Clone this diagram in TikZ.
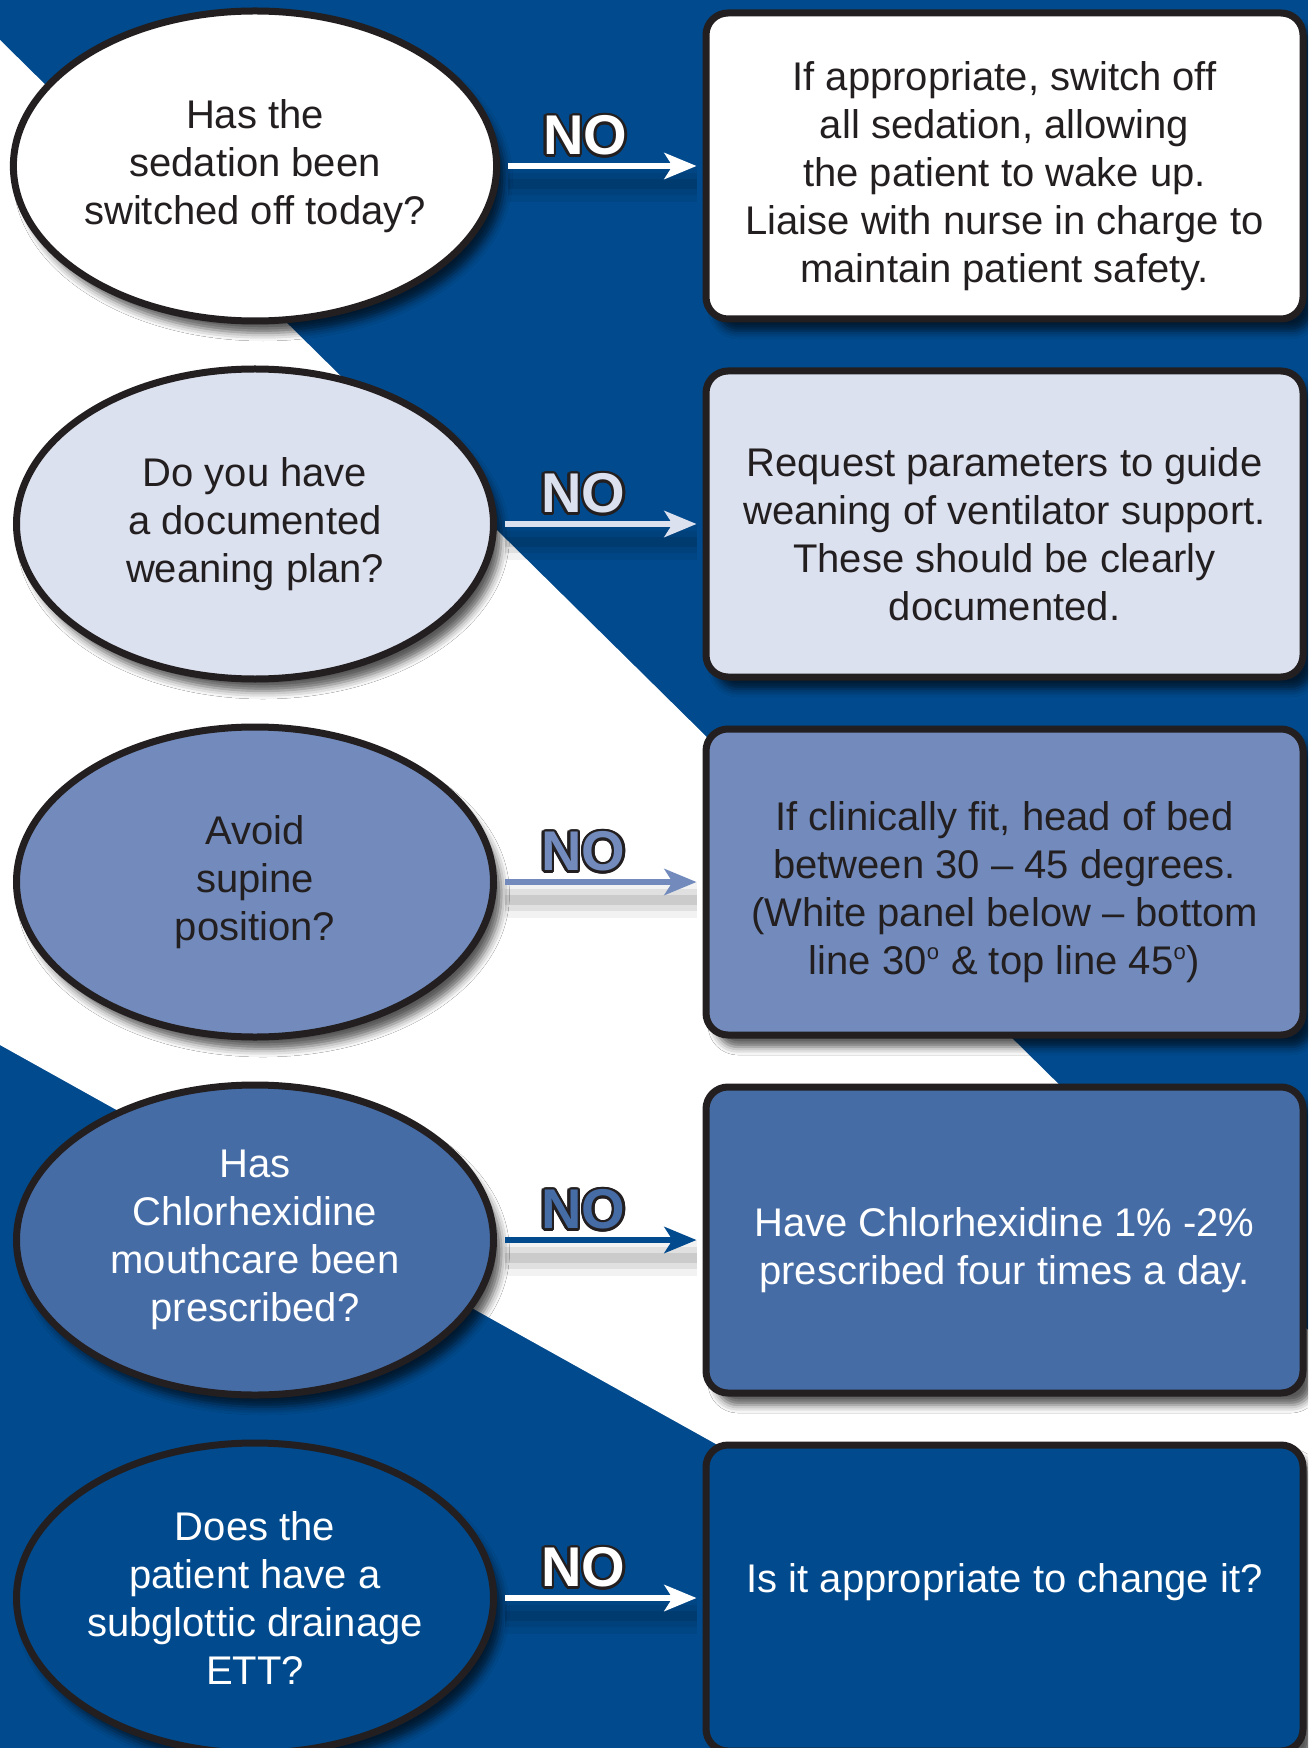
\documentclass[tikz,border=0pt]{standalone}
\usepackage{fontspec}
\setmainfont{Liberation Sans}
\usepackage{contour}
\usetikzlibrary{arrows.meta, positioning, shapes.geometric, shadows.blur}
\contourlength{1.3pt}
\definecolor{bgblue}{RGB}{0,74,141}
\definecolor{rowtwo}{RGB}{220,225,240}
\definecolor{rowthree}{RGB}{114,139,188}
\definecolor{rowfour}{RGB}{70,108,166}
\definecolor{linedark}{RGB}{35,31,32}
\newcommand{\bodyfont}{\fontsize{20pt}{24pt}\selectfont}
\newcommand{\nofont}{\fontsize{28pt}{28pt}\selectfont\bfseries}
\newcommand{\topgap}{\rule{0pt}{25pt}}
\newcommand{\degsign}{\textsuperscript{\fontsize{11pt}{11pt}\selectfont o}}

\begin{document}
\begin{tikzpicture}[%
    x=0.5pt, y=-0.5pt,
    >={Stealth[length=16pt,width=13pt,inset=4pt]},
    node distance=179pt,
    on grid,
    question/.style={ellipse, draw=linedark, line width=3.5pt, minimum width=238.5pt,
      minimum height=155pt, inner sep=0pt, align=center, font=\bodyfont,
      blur shadow={shadow xshift=4pt, shadow yshift=-6pt, shadow blur radius=4pt, shadow opacity=65}},
    answer/.style={rectangle, rounded corners=11pt, draw=linedark, line width=3.5pt,
      minimum width=298.5pt, minimum height=153pt, align=center, font=\bodyfont,
      blur shadow={shadow xshift=5pt, shadow yshift=-6pt, shadow blur radius=4pt, shadow opacity=65}},
    link/.style={->, line width=3pt, shorten <=4pt, shorten >=3pt},
    linkshade/.style={preaction={draw=black, opacity=.05, line width=18pt, arrows=-, transform canvas={yshift=-9pt}},
      preaction={draw=black, opacity=.07, line width=11pt, arrows=-, transform canvas={yshift=-9pt}},
      preaction={draw=black, opacity=.09, line width=5pt, arrows=-, transform canvas={yshift=-9pt}}},
    nolabel/.style={font=\nofont, inner sep=0pt, pos=.42, above=2.5pt}
  ]
  \useasboundingbox (0,0) rectangle (1308,1748);
  \clip (0,0) rectangle (1308,1748);
  \fill[bgblue] (0,0) rectangle (1308,1748);
  \fill[white] (0,40) -- (1308,1330) -- (1308,1774) -- (0,1045) -- cycle;

  \node[question, fill=white, text=linedark] at (255,166) (Q1) {Has the\\sedation been\\switched off today?};
  \node[question, fill=rowtwo, text=linedark, below=of Q1] (Q2) {Do you have\\a documented\\weaning plan?};
  \node[question, fill=rowthree, text=linedark, below=of Q2] (Q3) {Avoid\\supine\\position?};
  \node[question, fill=rowfour, text=white, below=of Q3] (Q4) {Has\\Chlorhexidine\\mouthcare been\\prescribed?};
  \node[question, fill=bgblue, text=white, below=of Q4] (Q5) {Does the\\patient have a\\subglottic drainage\\ETT?};

  \node[answer, fill=white, text=linedark, right=374.75pt of Q1] (A1) {\topgap If appropriate, switch off\\all sedation, allowing\\the patient to wake up.\\Liaise with nurse in charge to\\maintain patient safety.};
  \node[answer, fill=rowtwo, text=linedark, right=374.75pt of Q2] (A2) {\topgap Request parameters to guide\\weaning of ventilator support.\\These should be clearly\\documented.};
  \node[answer, fill=rowthree, text=linedark, right=374.75pt of Q3] (A3) {\topgap If clinically fit, head of bed\\between 30 – 45 degrees.\\(White panel below – bottom\\line 30\degsign{} \& top line 45\degsign)};
  \node[answer, fill=rowfour, text=white, right=374.75pt of Q4] (A4) {\topgap Have Chlorhexidine 1\% -2\%\\prescribed four times a day.};
  \node[answer, fill=bgblue, text=white, right=374.75pt of Q5] (A5) {\raisebox{20pt}{Is it appropriate to change it?}};

  \path
    (Q1) edge[link, linkshade, draw=white] node[nolabel, text=white] {\contour{linedark}{NO}} (A1)
    (Q2) edge[link, linkshade, draw=rowtwo] node[nolabel, text=rowtwo] {\contour{linedark}{NO}} (A2)
    (Q3) edge[link, linkshade, draw=rowthree] node[nolabel, text=rowthree] {\contour{linedark}{NO}} (A3)
    (Q4) edge[link, linkshade, draw=bgblue] node[nolabel, text=rowfour] {\contour{linedark}{NO}} (A4)
    (Q5) edge[link, linkshade, draw=white] node[nolabel, text=white] {\contour{linedark}{NO}} (A5);
\end{tikzpicture}
\end{document}
